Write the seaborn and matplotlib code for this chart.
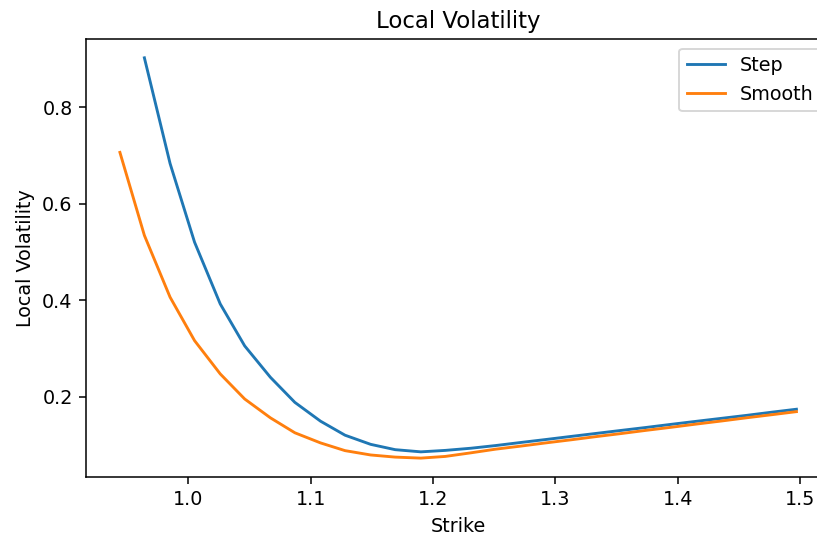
import matplotlib
matplotlib.use('Agg')
import matplotlib.pyplot as plt
import seaborn as sns

# Strikes (grille commune) et volatilités locales
strikes = [0.944, 0.964, 0.985, 1.005, 1.026, 1.046, 1.067, 1.087, 1.108, 1.128,
           1.149, 1.169, 1.190, 1.210, 1.231, 1.251, 1.272, 1.292, 1.313, 1.333,
           1.354, 1.374, 1.395, 1.415, 1.436, 1.456, 1.477, 1.497]

# La courbe "Step" commence au deuxième strike
step_vol = [0.902, 0.683, 0.520, 0.392, 0.305, 0.240, 0.188, 0.149, 0.120,
            0.101, 0.090, 0.0855, 0.0885, 0.093, 0.0985, 0.105, 0.111, 0.1175,
            0.1236, 0.130, 0.136, 0.1426, 0.1487, 0.155, 0.161, 0.1677, 0.1738]

smooth_vol = [0.706, 0.534, 0.406, 0.316, 0.247, 0.195, 0.156, 0.125, 0.104, 0.088,
              0.079, 0.0746, 0.0725, 0.076, 0.0835, 0.091, 0.0975, 0.104, 0.1105, 0.117,
              0.1235, 0.130, 0.1365, 0.143, 0.1495, 0.156, 0.1625, 0.1688]

dpi = 137.5
fig = plt.figure(figsize=(817 / dpi, 537 / dpi), dpi=dpi)
# l'axe déborde à droite de l'image, comme sur l'original rogné
ax = fig.add_axes([0.1053, 0.1123, 0.9119, 0.8151])

sns.lineplot(x=strikes[1:], y=step_vol, ax=ax, color='#1f77b4', label='Step')
sns.lineplot(x=strikes, y=smooth_vol, ax=ax, color='#ff7f0e', label='Smooth')

ax.set_xlim(0.9163, 1.5253)
ax.set_ylim(0.034, 0.941)
ax.spines['right'].set_visible(False)
ax.set_title('Local Volatility')
ax.set_xlabel('Strike')
ax.set_ylabel('Local Volatility')
ax.set_yticks([0.2, 0.4, 0.6, 0.8])
ax.legend(loc='upper right')

fig.savefig('out.png', dpi=dpi)
